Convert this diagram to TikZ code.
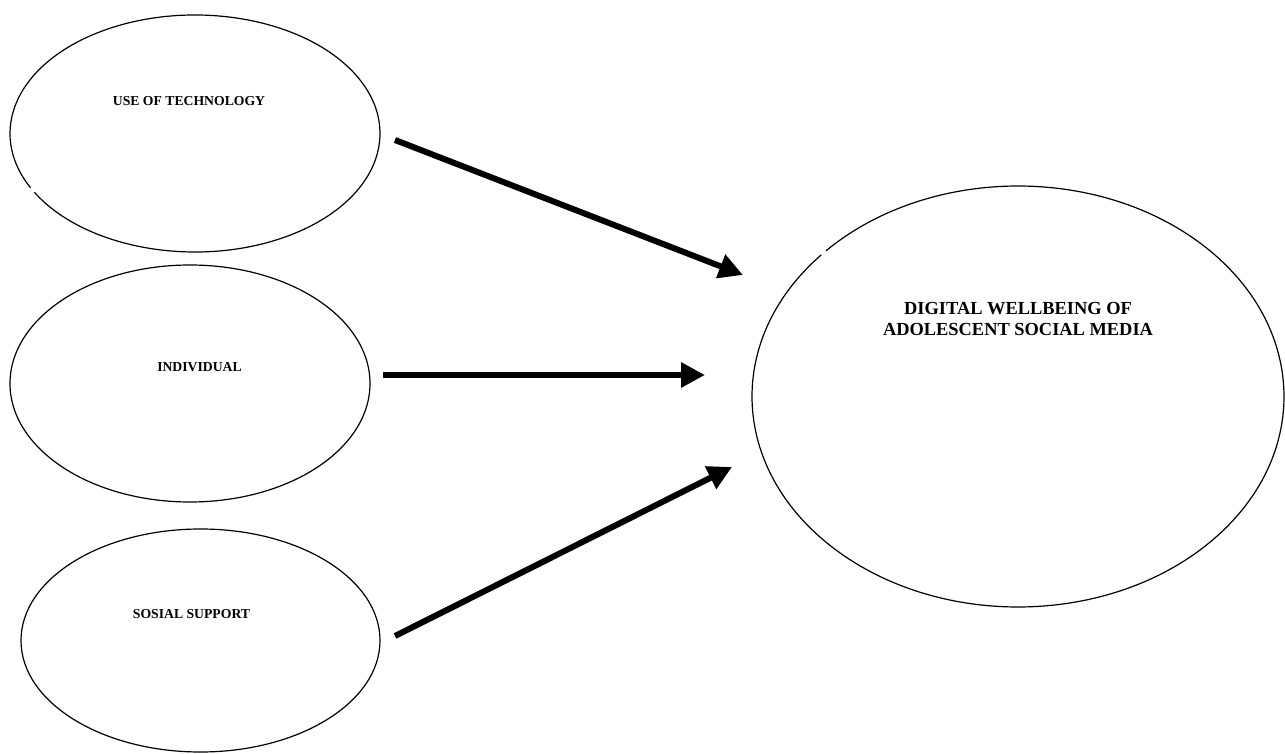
\documentclass[tikz,border=0pt]{standalone}
\usepackage{fontspec}
\setmainfont{Liberation Serif}
\usetikzlibrary{arrows.meta}
\begin{document}
\begin{tikzpicture}[x=1pt,y=1pt,
  outline/.style={line width=1.2pt,black},
  smalllabel/.style={font=\fontsize{13.7}{16}\selectfont\bfseries,inner sep=0pt},
  biglabel/.style={font=\fontsize{18.4}{21.5}\selectfont\bfseries,align=center,inner sep=0pt},
  bigarrow/.style={line width=6pt,-{Triangle[length=24pt,width=24pt]}}]
\useasboundingbox (0,0) rectangle (1285,753);
% ellipses
\draw[outline] (195,619.5) ++(209.7:185 and 118.5) arc[start angle=209.7,end angle=567.3,x radius=185,y radius=118.5];
\draw[outline] (190,369.5) ellipse[x radius=180,y radius=118.5];
\draw[outline] (200.5,112.5) ellipse[x radius=179.5,y radius=111.5];
\draw[outline] (1018,356.5) ++(137.7:266 and 210.5) arc[start angle=137.7,end angle=496.2,x radius=266,y radius=210.5];
% labels
\node[smalllabel] (tech) at (189,652) {USE OF TECHNOLOGY};
\node[smalllabel] (indiv) at (199.5,386) {INDIVIDUAL};
\node[smalllabel] (social) at (191.5,139) {SOSIAL SUPPORT};
\node[biglabel] (dw) at (1018,434) {DIGITAL WELLBEING OF\\ADOLESCENT SOCIAL MEDIA};
% arrow ends
\coordinate (a1s) at (395,613);
\coordinate (a1e) at (743,478);
\coordinate (a2s) at (383,378);
\coordinate (a2e) at (705,378);
\coordinate (a3s) at (395,117);
\coordinate (a3e) at (732,286);
\draw[bigarrow] (a1s) -- (a1e);
\draw[bigarrow] (a2s) -- (a2e);
\draw[bigarrow] (a3s) -- (a3e);
\end{tikzpicture}
\end{document}
